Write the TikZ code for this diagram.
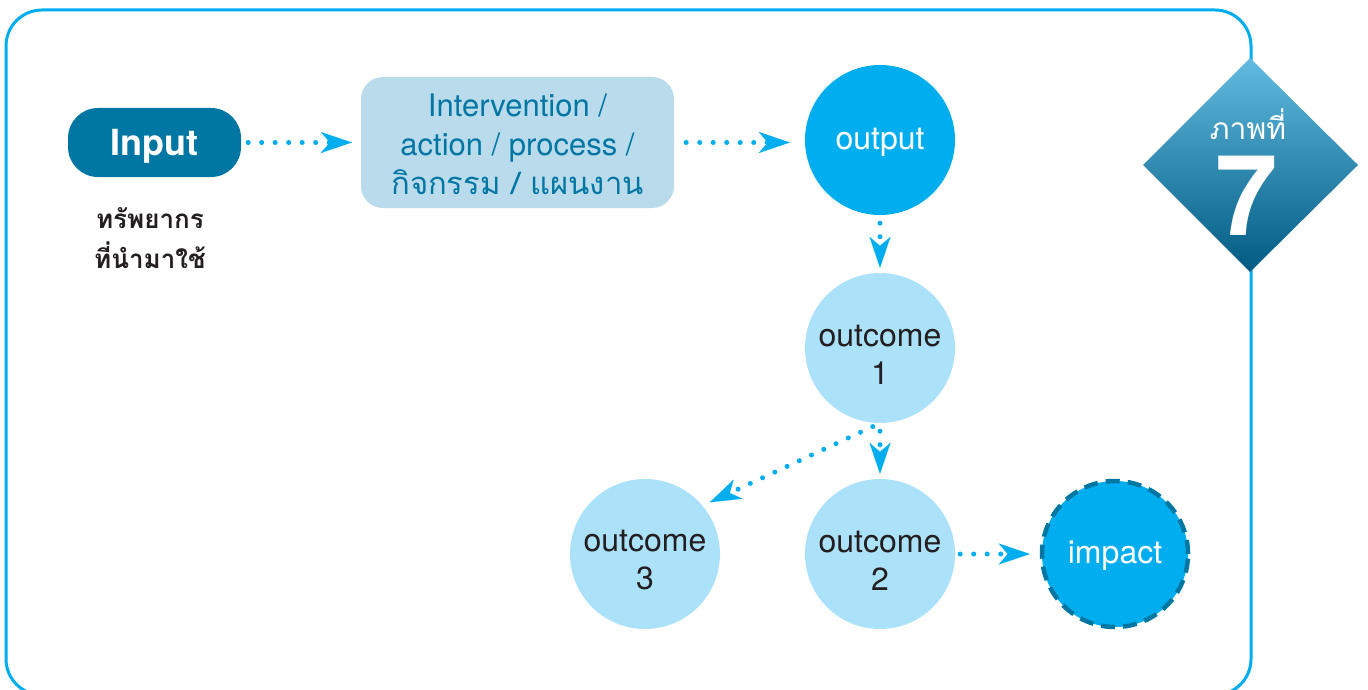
\documentclass[tikz,border=0pt]{standalone}
\usepackage{fontspec}
\setmainfont{TeX Gyre Heros}
\setsansfont{TeX Gyre Heros}
\newfontfamily\thaifont[Script=Thai]{Loma}
\usetikzlibrary{arrows.meta,shapes.geometric}
\definecolor{cyanA}{HTML}{00AEEF}
\definecolor{tealA}{HTML}{0076A3}
\definecolor{procfill}{HTML}{B9DBEB}
\definecolor{outfill}{HTML}{ACE1FA}
\definecolor{darktext}{HTML}{231F20}
\definecolor{diaTop}{HTML}{62BCE0}
\definecolor{diaMid}{HTML}{0488B8}
\definecolor{diaBot}{HTML}{005A82}
\newcommand{\lifttxt}{\rule{0pt}{34pt}}
\begin{document}
\begin{tikzpicture}[x=1pt,y=-1pt,
  flow/.style={draw=cyanA, line width=5pt, line cap=round, dash pattern=on 0pt off 13.5pt,
    -{Stealth[length=31pt,width=21pt,inset=9pt,line width=0.01pt]}},
  bigcirc/.style={circle, inner sep=0pt, minimum size=150pt, align=center,
    font=\fontsize{32}{38}\selectfont},
  darkcirc/.style={bigcirc, fill=cyanA, text=white},
  lightcirc/.style={bigcirc, fill=outfill, text=darktext},
]
\useasboundingbox (0,0) rectangle (1368,690);
% frame
\draw[cyanA, line width=3pt, rounded corners=36pt] (6,10) rectangle (1251,695);
% diamond badge
\shade[top color=diaTop, middle color=diaMid, bottom color=diaBot]
  (1250,58) -- (1358,165) -- (1250,272) -- (1143,165) -- cycle;
\node[inner sep=0pt, text depth=0pt, text=white, font=\thaifont\fontsize{30}{30}\selectfont] (figlabel) at (1248,124) {ภาพที่};
\node[inner sep=0pt, text depth=0pt, text=white, font=\bfseries\fontsize{112}{112}\selectfont] (fignum) at (1247,196) {7};

% nodes
\node[fill=tealA, rounded corners=30pt, minimum width=173pt, minimum height=69pt,
  text depth=0pt, text=white, font=\bfseries\fontsize{36}{40}\selectfont] (input) at (154.5,142.5) {Input};
\node[align=center, text=darktext, font=\thaifont\bfseries\fontsize{26}{40}\selectfont]
  (res) at (150,238) {ทรัพยากร\\ที่นำมาใช้};
\node[fill=procfill, rounded corners=22pt, minimum width=313pt, minimum height=131pt,
  align=center, text=tealA, font=\fontsize{31}{39}\selectfont] (proc) at (517.5,142.5)
  {\rule{0pt}{27pt}Intervention /\\action / process /\\{\thaifont กิจกรรม / แผนงาน}};
\node[darkcirc] (out) at (880,140) {\rule{0pt}{26pt}output};
\node[lightcirc] (o1) at (880,348) {\lifttxt outcome\\1};
\node[lightcirc] (o2) at (880,554) {\lifttxt outcome\\2};
\node[lightcirc] (o3) at (645,554) {\lifttxt outcome\\3};
\node[darkcirc, minimum size=146pt, draw=tealA, line width=4.5pt, dash pattern=on 14pt off 8pt] (imp) at (1115,554) {\rule{0pt}{26pt}impact};

% connectors
\draw[flow, shorten <=7pt, shorten >=9pt] (input.east) -- (proc.west);
\draw[flow, shorten <=12pt, shorten >=15pt] (proc.east) -- (proc.east -| out.west);
\draw[flow, shorten <=8pt, shorten >=5pt] (out.south) -- (o1.north);
\draw[flow, shorten <=8pt, shorten >=5pt] (o1.south) -- (o2.north);
\draw[flow, shorten <=8pt, shorten >=8pt] (o1.south) -- (o3.40);
\draw[flow, shorten <=5pt, shorten >=10pt] (o2.east) -- (imp.west);
\end{tikzpicture}
\end{document}
